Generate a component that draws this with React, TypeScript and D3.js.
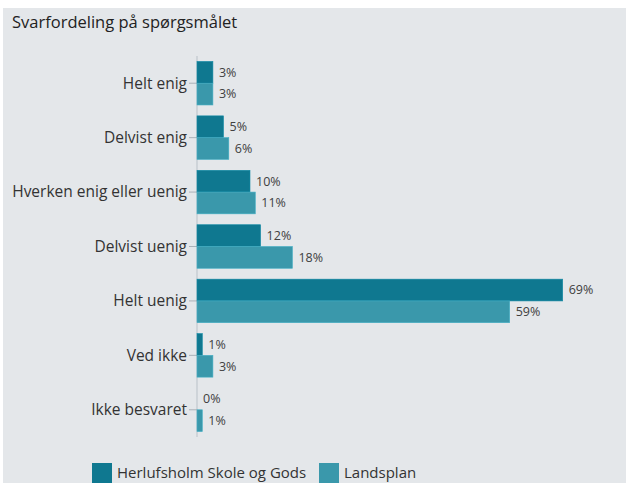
import { useEffect, useRef } from 'react';
import * as d3 from 'd3';

const categories = [
  'Helt enig',
  'Delvist enig',
  'Hverken enig eller uenig',
  'Delvist uenig',
  'Helt uenig',
  'Ved ikke',
  'Ikke besvaret',
];
const seriesNames = ['Herlufsholm Skole og Gods', 'Landsplan'];
const schoolValues = [3, 5, 10, 12, 69, 1, 0];
const nationalValues = [3, 6, 11, 18, 59, 3, 1];
const colors = ['#0f7890', '#3a98ab'];

export default function App() {
  const svgRef = useRef<SVGSVGElement>(null);
  const width = 626;
  const height = 483;

  useEffect(() => {
    if (!svgRef.current) return;
    const svg = d3.select(svgRef.current);
    svg.selectAll('*').remove();

    const font = '"Open Sans", Lato, sans-serif';

    svg.append('rect').attr('width', width).attr('height', height).attr('fill', '#fff');
    svg.append('rect')
      .attr('x', 3).attr('y', 8)
      .attr('width', width - 3).attr('height', height - 8)
      .attr('fill', '#e4e7ea');

    svg.append('text')
      .attr('x', 12).attr('y', 28)
      .attr('font-family', font)
      .attr('font-size', 16.5)
      .attr('fill', '#222')
      .text('Svarfordeling på spørgsmålet');

    const x = d3.scaleLinear().domain([0, 70]).range([197, 568]);
    const y = d3.scaleBand<string>()
      .domain(categories)
      .range([56, 437])
      .paddingInner(0.2)
      .paddingOuter(0.1);
    const sub = d3.scaleBand<number>()
      .domain([0, 1])
      .range([0, y.bandwidth()]);

    const series = [schoolValues, nationalValues];

    // axis line + ticks
    svg.append('line')
      .attr('x1', x(0)).attr('x2', x(0))
      .attr('y1', 56).attr('y2', 437)
      .attr('stroke', '#b9c1c8');

    const g = svg.append('g');
    categories.forEach((c, i) => {
      const cy = (y(c) || 0) + y.bandwidth() / 2;
      g.append('line')
        .attr('x1', x(0) - 8).attr('x2', x(0))
        .attr('y1', cy).attr('y2', cy)
        .attr('stroke', '#aab2b9');
      g.append('text')
        .attr('x', x(0) - 10).attr('y', cy)
        .attr('dy', '0.35em')
        .attr('text-anchor', 'end')
        .attr('font-family', font)
        .attr('font-size', 15.5)
        .attr('fill', '#333')
        .text(c);

      series.forEach((vals, s) => {
        const by = (y(c) || 0) + (sub(s) || 0);
        g.append('rect')
          .attr('x', x(0))
          .attr('y', by)
          .attr('width', Math.max(x(vals[i]) - x(0), 0))
          .attr('height', sub.bandwidth())
          .attr('fill', colors[s])
          .attr('stroke', d3.color(colors[s])!.brighter(0.4).toString())
          .attr('stroke-width', 0.6);
        g.append('text')
          .attr('x', x(vals[i]) + 6)
          .attr('y', by + sub.bandwidth() / 2)
          .attr('dy', '0.35em')
          .attr('font-family', font)
          .attr('font-size', 12.5)
          .attr('fill', '#404040')
          .text(`${vals[i]}%`);
      });
    });

    // legend
    const legend = svg.append('g');
    const items = [
      { x: 92, tx: 117 },
      { x: 319, tx: 344 },
    ];
    seriesNames.forEach((name, s) => {
      legend.append('rect')
        .attr('x', items[s].x).attr('y', 463)
        .attr('width', 20).attr('height', 20)
        .attr('fill', colors[s]);
      legend.append('text')
        .attr('x', items[s].tx).attr('y', 478)
        .attr('font-family', font)
        .attr('font-size', 15)
        .attr('fill', '#333')
        .text(name);
    });
  }, []);

  return (
    <svg
      ref={svgRef}
      width={width}
      height={height}
      style={{ position: 'absolute', left: 0, top: 0 }}
    />
  );
}
